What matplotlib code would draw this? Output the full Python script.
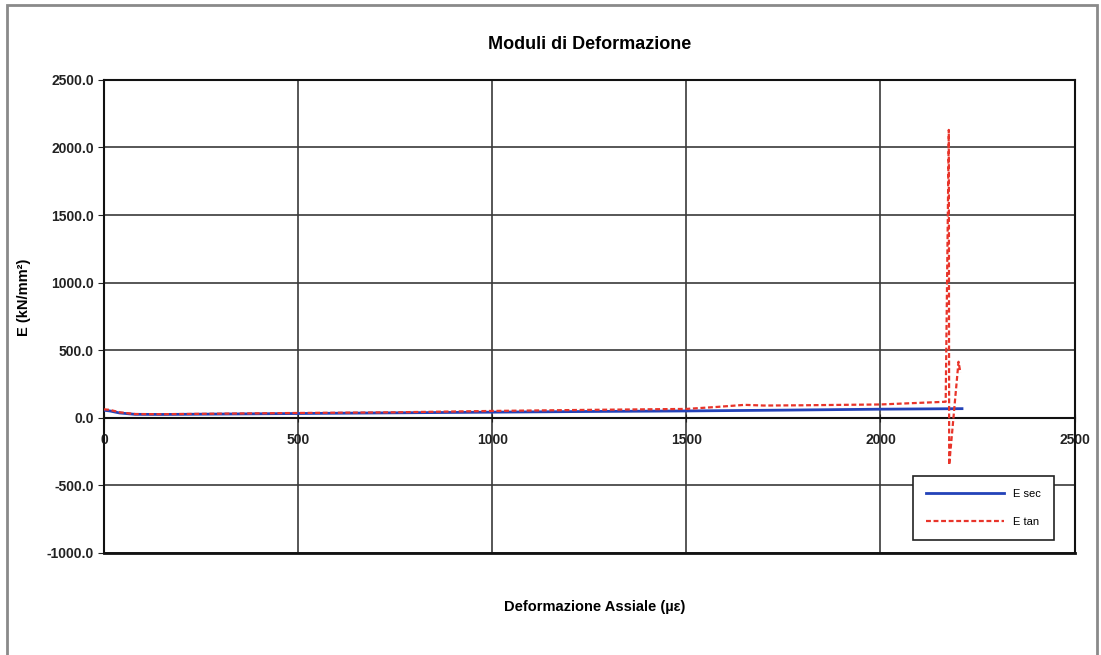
"""Moduli di deformazione: E sec / E tan vs axial strain."""

import matplotlib

matplotlib.use("Agg")
import matplotlib.pyplot as plt
from matplotlib.patches import Rectangle

plt.rcParams["font.family"] = ["Liberation Sans", "DejaVu Sans"]

# secant modulus
strain_sec = [0, 15, 40, 80, 150, 300, 500, 750, 1000, 1250, 1500, 1750, 2000, 2210]
e_sec = [55, 50, 35, 25, 24, 27, 31, 36, 41, 46, 50, 56, 63, 67]

# tangent modulus
strain_tan = [0, 15, 40, 80, 150, 300, 500, 750, 1000, 1250, 1500, 1580, 1650,
              1700, 1800, 2000, 2168, 2176, 2177, 2201, 2206]
e_tan = [62, 58, 40, 27, 26, 30, 35, 40, 50, 58, 65, 80, 95,
         90, 92, 98, 118, 2130, -350, 414, 333]

x_ticks = [0, 500, 1000, 1500, 2000, 2500]
y_ticks = [-1000, -500, 0, 500, 1000, 1500, 2000, 2500]


def main() -> None:
    fig = plt.figure(figsize=(11.01, 6.55), dpi=100)
    ax = fig.add_axes([0.0945, 0.156, 0.8815, 0.722])

    # x axis crosses at zero, plot area still boxed (before tick styling,
    # moving a spine resets the ticks)
    ax.spines["bottom"].set_position(("data", 0))
    for side in ["left", "right", "top", "bottom"]:
        ax.spines[side].set_linewidth(1.5)
        ax.spines[side].set_color("#111111")
    ax.axhline(-1000, color="#111111", lw=2.0, clip_on=False, zorder=5)

    ax.plot(strain_sec, e_sec, color="#2342b8", lw=2.0, label="E sec", zorder=3)
    ax.plot(strain_tan, e_tan, color="#e8342a", lw=1.6, ls=(0, (2.2, 1.2)),
            label="E tan", zorder=4)

    ax.set_xlim(0, 2500)
    ax.set_ylim(-1000, 2500)
    ax.set_xticks(x_ticks)
    ax.set_xticklabels([str(v) for v in x_ticks], fontweight="bold")
    ax.set_yticks(y_ticks)
    ax.set_yticklabels([f"{v:.1f}" for v in y_ticks], fontweight="bold")
    ax.tick_params(labelsize=10, colors="#222222", length=4)
    ax.tick_params(axis="x", direction="inout", length=6, pad=8)

    ax.grid(True, color="#3a3a3a", lw=1.2)
    ax.set_axisbelow(True)

    ax.set_ylabel("E (kN/mm²)", fontsize=10.5, fontweight="bold", labelpad=4)
    ax.yaxis.set_label_coords(-0.075, 0.54)
    ax.set_title("Moduli di Deformazione", fontsize=13, fontweight="bold", pad=22)
    fig.text(0.54, 0.073, "Deformazione Assiale (µε)", ha="center", va="center",
             fontsize=10.5, fontweight="bold")

    leg = ax.legend(loc="lower right", bbox_to_anchor=(0.979, 0.027),
                    borderaxespad=0, fancybox=False, framealpha=1,
                    edgecolor="#222222", fontsize=8, handlelength=7,
                    labelspacing=1.6, borderpad=1.2)
    leg.get_frame().set_linewidth(1.2)

    # outer frame of the chart object
    fig.patches.append(Rectangle((0.006, -0.05), 0.99, 1.042, transform=fig.transFigure,
                                 fill=False, edgecolor="#8a8a8a", lw=2))

    fig.savefig("out.png", dpi=100)


if __name__ == "__main__":
    main()
